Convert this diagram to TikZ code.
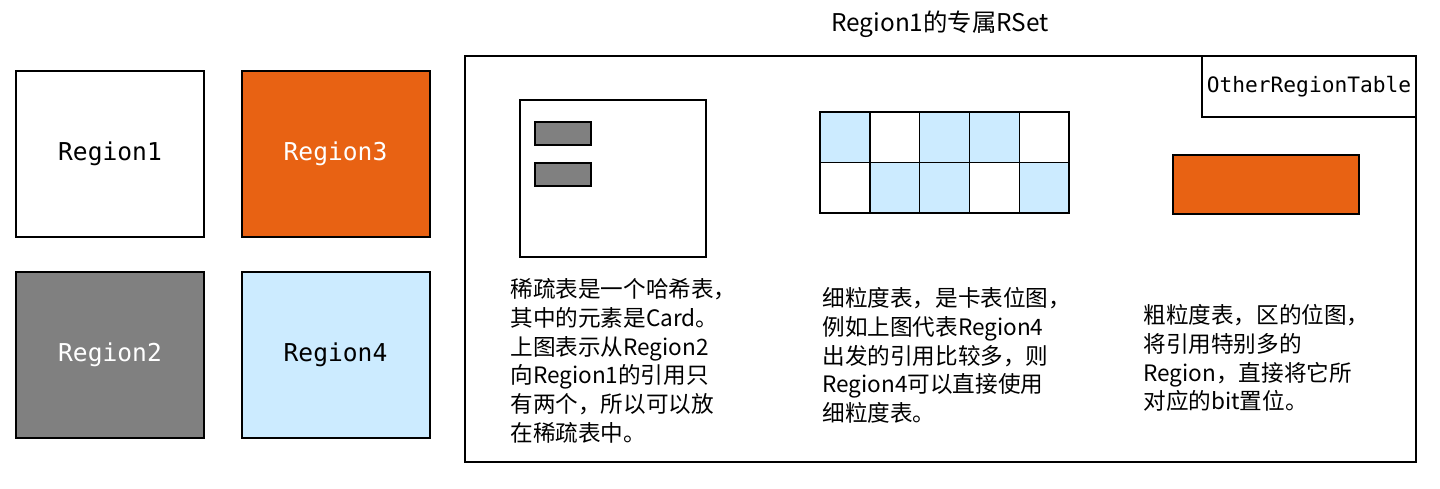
\documentclass[tikz,border=0pt]{standalone}
\usepackage{fontspec}
\setmainfont{Noto Sans CJK SC}
\newfontfamily\codefont{DejaVu Sans Mono}
\usepackage{tikz}
\usetikzlibrary{positioning}

\definecolor{hotorange}{HTML}{E86213}
\definecolor{cardgray}{HTML}{808080}
\definecolor{finecell}{HTML}{CCEBFF}

\begin{document}
\begin{tikzpicture}[
  x=0.5pt, y=-0.5pt,
  region/.style={rectangle, draw, line width=1pt, minimum width=94pt, minimum height=83pt, font=\codefont\fontsize{12.3}{14}\selectfont},
  card/.style={rectangle, draw, fill=cardgray, line width=0.6pt, minimum width=28pt, minimum height=11.5pt, inner sep=0pt},
  note/.style={anchor=north west, align=left, inner sep=0pt, font=\fontsize{11.3}{14.4}\selectfont}
]
\useasboundingbox (0,0) rectangle (1440,488);

% Regions of the heap
\node[region] (r1) at (110,154) {Region1};
\node[region, fill=hotorange, text=white] (r3) at (335.5,154) {Region3};
\node[region, fill=cardgray, text=white] (r2) at (110,355) {Region2};
\node[region, fill=finecell] (r4) at (335.5,355) {Region4};

% RSet of Region1
\node[draw, line width=1pt, minimum width=475.5pt, minimum height=203pt, anchor=north west] (rset) at (464,55) {};
\node[font=\fontsize{12.2}{14}\selectfont] (title) at (940,24) {Region1的专属RSet};
\node[draw, line width=1pt, minimum width=107pt, minimum height=30.5pt, anchor=north east, inner sep=0pt,
      font=\codefont\fontsize{10.6}{12}\selectfont] (ort) at (rset.north east) {OtherRegionTable};

% Sparse table
\node[draw, line width=1.2pt, minimum width=93pt, minimum height=78.5pt, anchor=north west] (sparse) at (519,99) {};
\node[card] (c1) at (563,133.5) {};
\node[card] (c2) at (563,174.5) {};

% Fine table (card bitmap)
\foreach \col/\row/\fc in {0/0/finecell,1/0/white,2/0/finecell,3/0/finecell,4/0/white,
                           0/1/white,1/1/finecell,2/1/finecell,3/1/white,4/1/finecell}
  \fill[\fc] (820+50*\col,112+50*\row) rectangle ++(50,50);
\foreach \col in {0,...,5}
  \draw[line width=0.7pt] (820+49.8*\col,112) -- (820+49.8*\col,213);
\foreach \row in {0,1,2}
  \draw[line width=0.7pt] (819,112+50.5*\row) -- (1070,112+50.5*\row);

% Coarse table (region bitmap)
\node[draw, fill=hotorange, line width=1pt, minimum width=93pt, minimum height=29.5pt, inner sep=0pt] (coarse) at (1266,184.5) {};

% Notes
\node[note] (sparsenote) at (510,278) {稀疏表是一个哈希表，\\其中的元素是Card。\\上图表示从Region2\\向Region1的引用只\\有两个，所以可以放\\在稀疏表中。};
\node[note] (finenote) at (822,287) {细粒度表，是卡表位图，\\例如上图代表Region4\\出发的引用比较多，则\\Region4可以直接使用\\细粒度表。};
\node[note] (coarsenote) at (1143,304) {粗粒度表，区的位图，\\将引用特别多的\\Region，直接将它所\\对应的bit置位。};

\end{tikzpicture}
\end{document}
